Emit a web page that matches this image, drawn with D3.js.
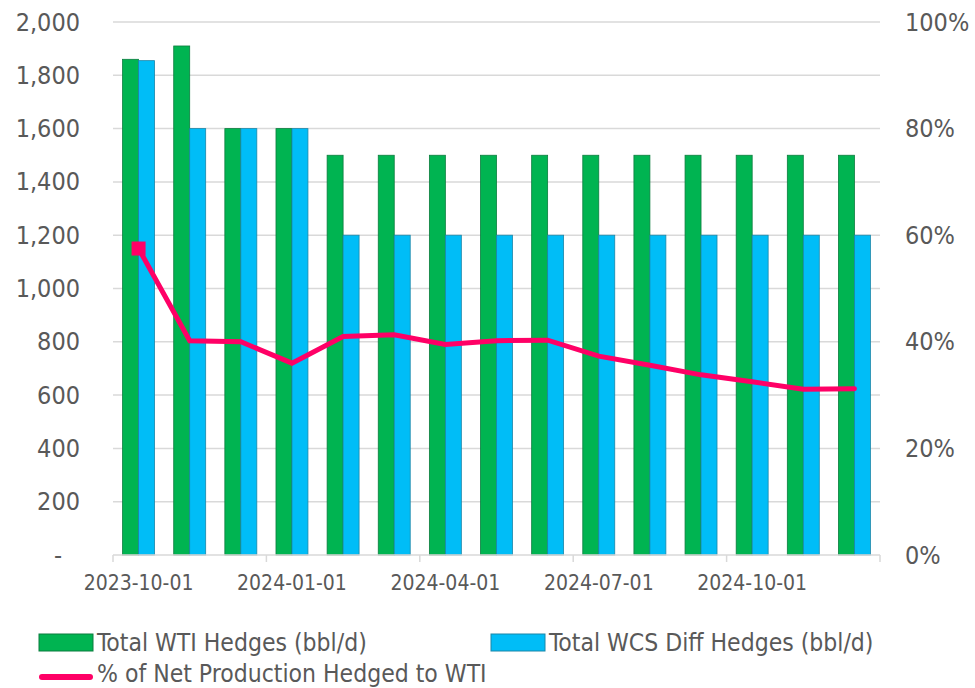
<!DOCTYPE html>
<html>
<head>
<meta charset="utf-8">
<script src="https://cdn.jsdelivr.net/npm/d3@7"></script>
<style>
  body { margin: 0; background: #fff; }
  text { font-family: "DejaVu Sans Condensed", "DejaVu Sans", sans-serif; fill: #595959; }
</style>
</head>
<body>
<svg></svg>
<script>
// chart data
let months = ["2023-10-01", "2023-11-01", "2023-12-01", "2024-01-01", "2024-02-01",
  "2024-03-01", "2024-04-01", "2024-05-01", "2024-06-01", "2024-07-01",
  "2024-08-01", "2024-09-01", "2024-10-01", "2024-11-01", "2024-12-01"];
let wtiHedges = [1860, 1910, 1600, 1600, 1500, 1500, 1500, 1500, 1500, 1500, 1500, 1500, 1500, 1500, 1500];
let wcsHedges = [1855, 1600, 1600, 1600, 1200, 1200, 1200, 1200, 1200, 1200, 1200, 1200, 1200, 1200, 1200];
let pctHedged = [57.5, 40.2, 40.0, 36.0, 41.0, 41.3, 39.5, 40.2, 40.3, 37.3, 35.6, 33.8, 32.5, 31.1, 31.2];
let leftTicks = [0, 200, 400, 600, 800, 1000, 1200, 1400, 1600, 1800, 2000];
let rightTicks = [0, 20, 40, 60, 80, 100];
let xLabelMonths = ["2023-10-01", "2024-01-01", "2024-04-01", "2024-07-01", "2024-10-01"];
let seriesNames = ["Total WTI Hedges (bbl/d)", "Total WCS Diff Hedges (bbl/d)", "% of Net Production Hedged to WTI"];

//dimension for canvas
let width = 975;
let height = 688;
let plotLeft = 113;
let plotRight = 880;
let plotTop = 22;
let plotBottom = 555;

let green = "#00b451";
let blue = "#00bdf7";
let pink = "#ff0066";
let gridColor = "#d9d9d9";

let svg = d3.select("svg").attr("width", width).attr("height", height);

// scales
let xScale = d3.scaleBand().domain(months).range([plotLeft, plotRight]).paddingInner(0.375).paddingOuter(0.1875);
let seriesScale = d3.scaleBand().domain(["wti", "wcs"]).range([0, xScale.bandwidth()]);
let yScale = d3.scaleLinear().domain([0, 2000]).range([plotBottom, plotTop]);
let pctScale = d3.scaleLinear().domain([0, 100]).range([plotBottom, plotTop]);
let center = (m) => xScale(m) + xScale.bandwidth() / 2;

// gridlines
svg.append("g")
  .selectAll("line")
  .data(leftTicks.slice(1))
  .enter()
  .append("line")
  .attr("x1", plotLeft)
  .attr("x2", plotRight)
  .attr("y1", (d) => yScale(d))
  .attr("y2", (d) => yScale(d))
  .attr("stroke", gridColor)
  .attr("stroke-width", 1.5);

// bars
let bars = [
  { key: "wti", values: wtiHedges, fill: green, edge: "#0b7d3e" },
  { key: "wcs", values: wcsHedges, fill: blue, edge: "#1b86a8" },
];
bars.forEach((s) => {
  svg.append("g")
    .selectAll("rect")
    .data(months)
    .enter()
    .append("rect")
    .attr("x", (m) => xScale(m) + seriesScale(s.key))
    .attr("y", (m, i) => yScale(s.values[i]))
    .attr("width", seriesScale.bandwidth())
    .attr("height", (m, i) => plotBottom - yScale(s.values[i]))
    .attr("fill", s.fill)
    .attr("stroke", s.edge)
    .attr("stroke-width", 0.8);
});

// x axis line and ticks
let step = xScale.step();
svg.append("line")
  .attr("x1", plotLeft).attr("x2", plotRight)
  .attr("y1", plotBottom).attr("y2", plotBottom)
  .attr("stroke", gridColor).attr("stroke-width", 1.5);
svg.append("g")
  .selectAll("line")
  .data(d3.range(0, months.length + 1, 3))
  .enter()
  .append("line")
  .attr("x1", (i) => plotLeft + i * step)
  .attr("x2", (i) => plotLeft + i * step)
  .attr("y1", plotBottom)
  .attr("y2", plotBottom + 7)
  .attr("stroke", gridColor)
  .attr("stroke-width", 1.5);

let xAxis = d3.axisBottom(xScale).tickValues(xLabelMonths).tickSize(0).tickPadding(20);
let xg = svg.append("g").attr("transform", "translate(0," + plotBottom + ")").call(xAxis);
xg.attr("font-family", null).attr("font-size", null);
xg.select(".domain").remove();
xg.selectAll("text").attr("font-size", 21);

// left axis
let yAxis = d3.axisLeft(yScale).tickValues(leftTicks).tickSize(0).tickPadding(33)
  .tickFormat((d) => (d === 0 ? "-" : d3.format(",")(d)));
let yg = svg.append("g").attr("transform", "translate(" + plotLeft + ",0)").call(yAxis);
yg.attr("font-family", null).attr("font-size", null);
yg.select(".domain").remove();
yg.selectAll("text").attr("font-size", 25)
  .filter((d) => d === 0).attr("dx", -18);

// right axis
let y2Axis = d3.axisRight(pctScale).tickValues(rightTicks).tickSize(0).tickPadding(25)
  .tickFormat((d) => d + "%");
let y2g = svg.append("g").attr("transform", "translate(" + plotRight + ",0)").call(y2Axis);
y2g.attr("font-family", null).attr("font-size", null);
y2g.select(".domain").remove();
y2g.selectAll("text").attr("font-size", 25);

// percentage line
let line = d3.line()
  .x((d, i) => center(months[i]))
  .y((d) => pctScale(d));
svg.append("path")
  .datum(pctHedged)
  .attr("d", line)
  .attr("fill", "none")
  .attr("stroke", pink)
  .attr("stroke-width", 5)
  .attr("stroke-linecap", "round");
svg.append("rect")
  .attr("x", center(months[0]) - 7)
  .attr("y", pctScale(pctHedged[0]) - 7)
  .attr("width", 14)
  .attr("height", 14)
  .attr("fill", pink);

// legend
let legend = svg.append("g");
let swatches = [
  { x: 39, y: 634, fill: green, edge: "#0b7d3e", name: seriesNames[0] },
  { x: 491, y: 634, fill: blue, edge: "#1b86a8", name: seriesNames[1] },
];
swatches.forEach((s) => {
  legend.append("rect")
    .attr("x", s.x).attr("y", s.y)
    .attr("width", 54).attr("height", 17)
    .attr("fill", s.fill).attr("stroke", s.edge).attr("stroke-width", 1);
  legend.append("text")
    .attr("x", s.x + 58).attr("y", s.y + 17)
    .attr("font-size", 24.5)
    .text(s.name);
});
legend.append("line")
  .attr("x1", 42).attr("x2", 90)
  .attr("y1", 677).attr("y2", 677)
  .attr("stroke", pink).attr("stroke-width", 6).attr("stroke-linecap", "round");
legend.append("text")
  .attr("x", 97).attr("y", 682)
  .attr("font-size", 24.5)
  .text(seriesNames[2]);
</script>
</body>
</html>
